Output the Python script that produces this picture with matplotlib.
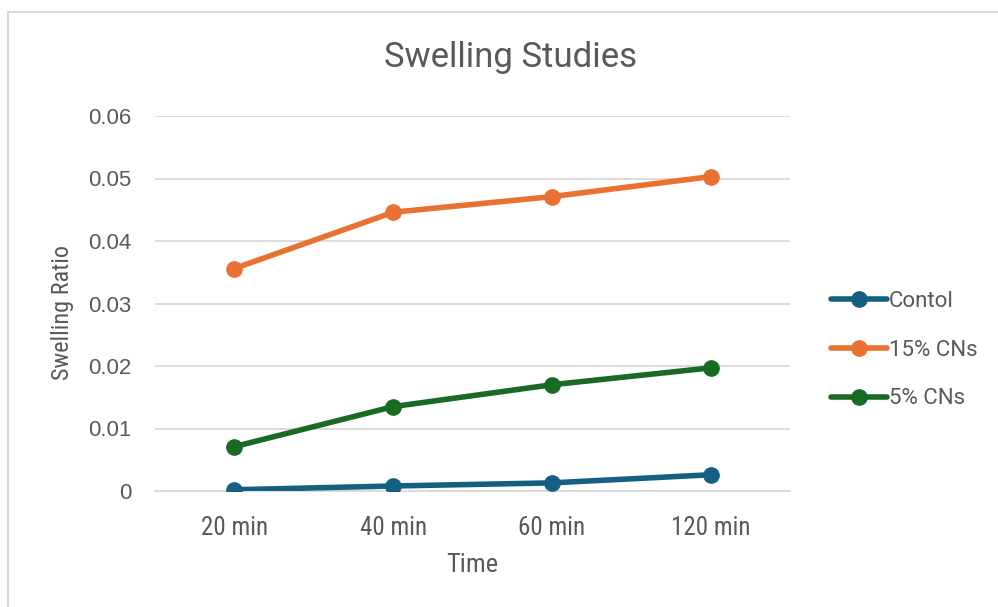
import matplotlib
matplotlib.use("Agg")
import matplotlib.pyplot as plt
from matplotlib.patches import Rectangle

times = ["20 min", "40 min", "60 min", "120 min"]
control = [0.0002, 0.0008, 0.0013, 0.0026]
cns_15 = [0.0356, 0.0446, 0.0471, 0.0503]
cns_5 = [0.0071, 0.0135, 0.0170, 0.0197]
y_ticks = [0, 0.01, 0.02, 0.03, 0.04, 0.05, 0.06]
y_tick_labels = ["0", "0.01", "0.02", "0.03", "0.04", "0.05", "0.06"]

TEXT = "#595959"
GRID = "#D9D9D9"
NARROW = ["Roboto Condensed", "Liberation Sans Narrow", "Liberation Sans", "DejaVu Sans"]
ARIAL = ["Liberation Sans", "DejaVu Sans"]
TITLE_FONT = ["Roboto", "DejaVu Sans"]

fig = plt.figure(figsize=(9.98, 6.07), dpi=100)
fig.patches.append(Rectangle((8 / 998, -0.1), 1.2, (607 - 12) / 607 + 0.1,
                             transform=fig.transFigure, fill=False,
                             edgecolor=GRID, linewidth=1.5))

ax = fig.add_axes([155 / 998, 116 / 607, 635 / 998, 375 / 607])
x = list(range(len(times)))
series = [("Contol", control, "#156082"),
          ("15% CNs", cns_15, "#E97132"),
          ("5% CNs", cns_5, "#196B24")]
handles = []
for label, vals, color in series:
    h, = ax.plot(x, vals, color=color, linewidth=4, marker="o",
                 markersize=11, label=label, solid_capstyle="round", zorder=3)
    handles.append(h)

ax.set_xlim(-0.5, len(times) - 0.5)
ax.set_ylim(0, 0.06)
ax.set_yticks(y_ticks)
ax.set_yticklabels(y_tick_labels, family=ARIAL, fontsize=16, color=TEXT)
ax.set_xticks(x)
ax.set_xticklabels(times, family=NARROW, fontsize=18, color=TEXT)
ax.tick_params(axis="y", length=0, pad=17)
ax.tick_params(axis="x", length=0, pad=18)
ax.grid(axis="y", color=GRID, linewidth=1.3)
ax.set_axisbelow(True)
for side in ["top", "right", "left"]:
    ax.spines[side].set_visible(False)
ax.spines["bottom"].set_color(GRID)
ax.spines["bottom"].set_linewidth(1.3)

fig.text(511 / 998, 1 - 58 / 607, "Swelling Studies", family=TITLE_FONT,
         fontsize=25, color=TEXT, ha="center", va="center")
fig.text(62 / 998, 1 - 313 / 607, "Swelling Ratio", family=NARROW,
         fontsize=17.5, color=TEXT, ha="center", va="center", rotation=90)
fig.text(472 / 998, 1 - 565 / 607, "Time", family=NARROW,
         fontsize=19, color=TEXT, ha="center", va="center")

leg = fig.legend(handles=handles, loc="center left",
                 bbox_to_anchor=(811 / 998, 1 - 350 / 607), frameon=False,
                 prop={"family": TITLE_FONT, "size": 16}, labelcolor=TEXT,
                 handlelength=2.5, handletextpad=0.12, labelspacing=1.25)

fig.savefig("out.png", dpi=100, facecolor="white")
